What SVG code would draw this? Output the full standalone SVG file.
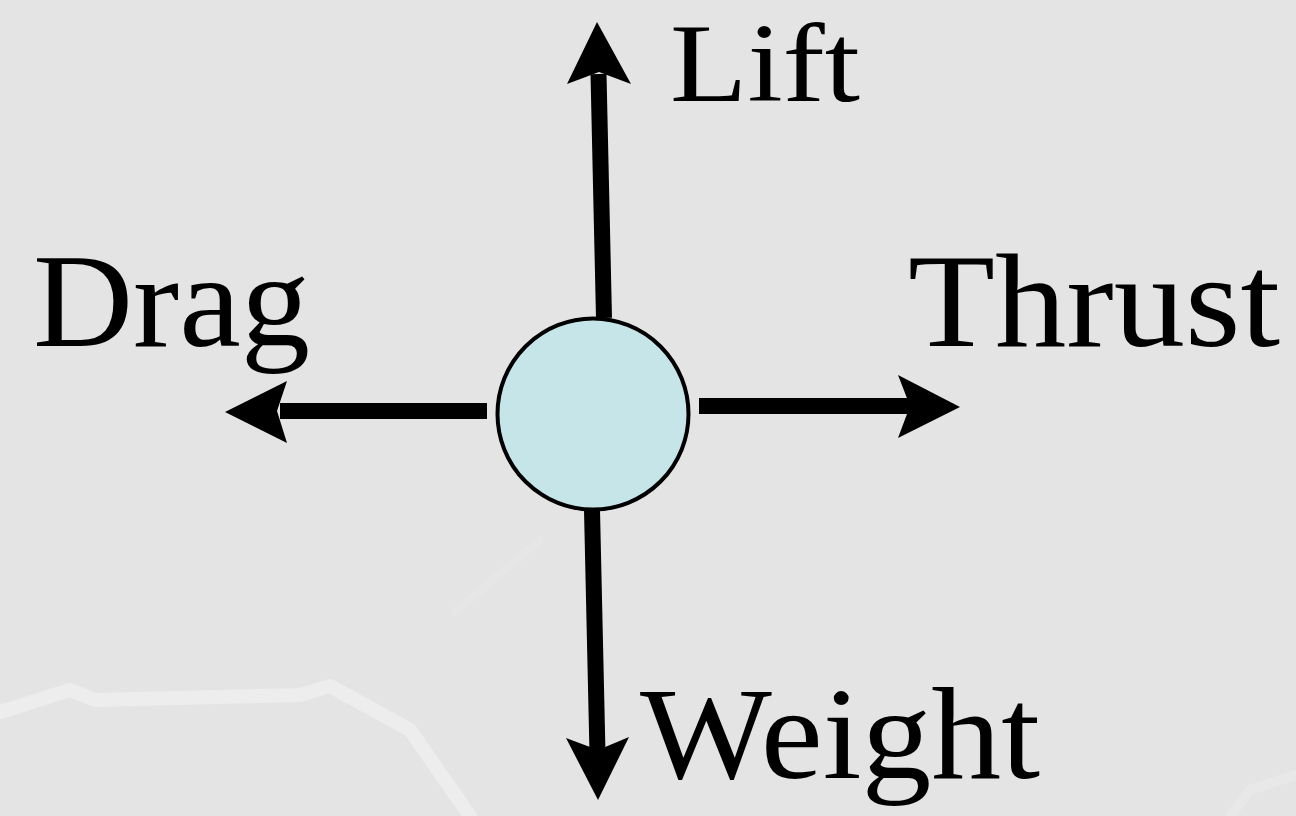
<svg xmlns="http://www.w3.org/2000/svg" width="1296" height="816" viewBox="0 0 1296 816">
  <style>
    .lbl { font-family: "Liberation Serif", "DejaVu Serif", serif; fill: #000; }
    .shaft { stroke: #000; stroke-width: 16; fill: none; }
    .head { fill: #000; stroke: none; }
    .bg { fill: none; stroke: #f1f1f1; stroke-linejoin: round; stroke-linecap: round; }
  </style>
  <rect x="0" y="0" width="1296" height="816" fill="#e4e4e4"/>
  <!-- faint background shapes -->
  <g id="background" opacity="0.7">
    <path class="bg" stroke-width="14" d="M0,712 L70,690 L95,700 L300,695 L330,686 L410,730 L470,816"/>
    <path class="bg" stroke-width="8" opacity="0.35" d="M455,612 L540,540"/>
    <path class="bg" stroke-width="10" opacity="0.5" d="M1230,816 L1250,790 L1296,775"/>
  </g>
  <g id="connectors">
    <g id="lift-arrow">
      <line class="shaft" x1="604" y1="318" x2="598.5" y2="74"/>
      <polygon class="head" points="597,22 631,84 599,72 567,84"/>
    </g>
    <g id="drag-arrow">
      <line class="shaft" x1="487" y1="411" x2="280" y2="411"/>
      <polygon class="head" points="225,412 287,381 277,411 287,443"/>
    </g>
    <g id="thrust-arrow">
      <line class="shaft" x1="699" y1="406" x2="914" y2="406"/>
      <polygon class="head" points="960,407 898,375 910,406 898,438"/>
    </g>
    <g id="weight-arrow">
      <line class="shaft" x1="592" y1="510" x2="597.5" y2="754"/>
      <polygon class="head" points="598,800 566,738 598,750 629,737"/>
    </g>
  </g>
  <g id="body">
    <circle cx="593" cy="414" r="95.5" fill="#c5e5e9" stroke="#000" stroke-width="4"/>
  </g>
  <g id="label-lift">
    <text class="lbl" x="670" y="101" font-size="112" textLength="190" lengthAdjust="spacingAndGlyphs">Lift</text>
  </g>
  <g id="label-drag">
    <text class="lbl" x="33" y="346" font-size="134" textLength="277" lengthAdjust="spacingAndGlyphs">Drag</text>
  </g>
  <g id="label-thrust">
    <text class="lbl" x="908" y="346" font-size="134" textLength="372" lengthAdjust="spacingAndGlyphs">Thrust</text>
  </g>
  <g id="label-weight">
    <text class="lbl" x="640" y="778" font-size="131" textLength="400" lengthAdjust="spacingAndGlyphs">Weight</text>
  </g>
</svg>
